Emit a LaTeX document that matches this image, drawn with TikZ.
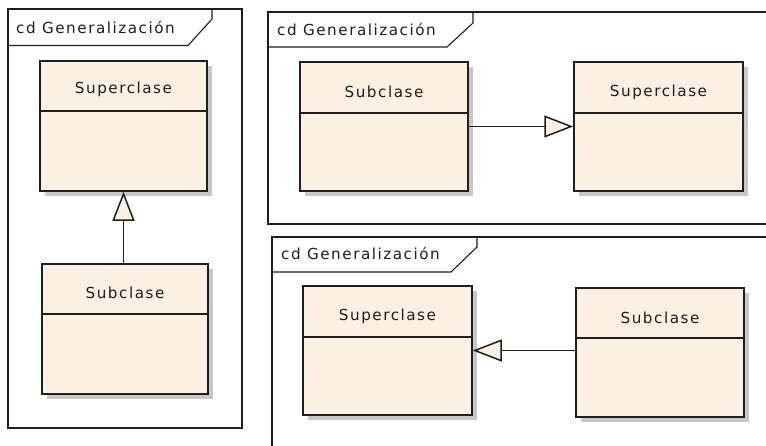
\documentclass[tikz,border=0pt]{standalone}
\usepackage{fontspec}
\setmainfont{DejaVu Sans}[LetterSpace=10]
\usetikzlibrary{arrows.meta,shadows,calc}
\definecolor{classfill}{RGB}{251,240,226}
\definecolor{shadowgray}{RGB}{200,200,200}
\definecolor{ink}{RGB}{30,30,30}
\begin{document}
\begin{tikzpicture}[x=1pt,y=-1pt,
  framestyle/.style={draw=ink, line width=1.1pt},
  classbox/.style={draw=ink, line width=1.5pt, fill=classfill, inner sep=0pt,
    drop shadow={shadow xshift=5pt, shadow yshift=-5pt, fill=shadowgray, opacity=1}},
  classlabel/.style={text=ink, font=\fontsize{15.2}{18}\selectfont, inner sep=0pt},
  framelabel/.style={text=ink, font=\fontsize{15.2}{18}\selectfont, inner sep=0pt, anchor=base west},
  sepline/.style={draw=ink, line width=1.5pt},
  genline/.style={draw=ink, line width=1.2pt,
    -{Triangle[length=29pt,width=22pt,fill=classfill,line width=1.5pt]}}
]
\useasboundingbox (0,0) rectangle (766,445);
\clip (0,0) rectangle (766,445);
\fill[white] (0,0) rectangle (766,445);

% ---------- left frame ----------
\draw[framestyle] (8,9) rectangle (242,428);
\draw[framestyle] (8,45.5) -- (188,45.5) -- (212,19) -- (212,9);
\node[framelabel] (f1) at (16,33) {cd Generalización};

% ---------- top right frame ----------
\draw[framestyle] (800,12) -- (268,12) -- (268,224) -- (800,224);
\draw[framestyle] (268,47) -- (447,47) -- (473,23) -- (473,12);
\node[framelabel] (f2) at (277,35) {cd Generalización};

% ---------- bottom right frame ----------
\draw[framestyle] (800,237) -- (272,237) -- (272,460);
\draw[framestyle] (272,272) -- (451,272) -- (477,247) -- (477,237);
\node[framelabel] (f3) at (281,259) {cd Generalización};

% ---------- left: vertical generalization ----------
\node[classbox, minimum width=167pt, minimum height=130pt] (supA) at (123.5,126) {};
\draw[sepline] (40,111) -- (207,111);
\node[classlabel] (supAl) at (123.5,89) {Superclase};

\node[classbox, minimum width=166pt, minimum height=130pt] (subA) at (125,329) {};
\draw[sepline] (42,314) -- (208,314);
\node[classlabel] (subAl) at (125,293) {Subclase};

\draw[genline] (subA.north -| supA.south) -- (supA.south);

% ---------- top right: horizontal generalization ----------
\node[classbox, minimum width=168pt, minimum height=129pt] (subB) at (384,126.5) {};
\draw[sepline] (300,113) -- (468,113);
\node[classlabel] (subBl) at (384,92) {Subclase};

\node[classbox, minimum width=169pt, minimum height=129pt] (supB) at (658.5,126.5) {};
\draw[sepline] (574,113) -- (743,113);
\node[classlabel] (supBl) at (658.5,92) {Superclase};

\draw[genline] (subB.east) -- (supB.west);

% ---------- bottom right: reversed horizontal generalization ----------
\node[classbox, minimum width=169pt, minimum height=129pt] (supC) at (387.5,350.5) {};
\draw[sepline] (303,337) -- (472,337);
\node[classlabel] (supCl) at (387.5,316) {Superclase};

\node[classbox, minimum width=168pt, minimum height=129pt] (subC) at (660,352.5) {};
\draw[sepline] (576,338) -- (744,338);
\node[classlabel] (subCl) at (660,318) {Subclase};

\draw[genline] (supC.east -| subC.west) -- (supC.east);
\end{tikzpicture}
\end{document}
